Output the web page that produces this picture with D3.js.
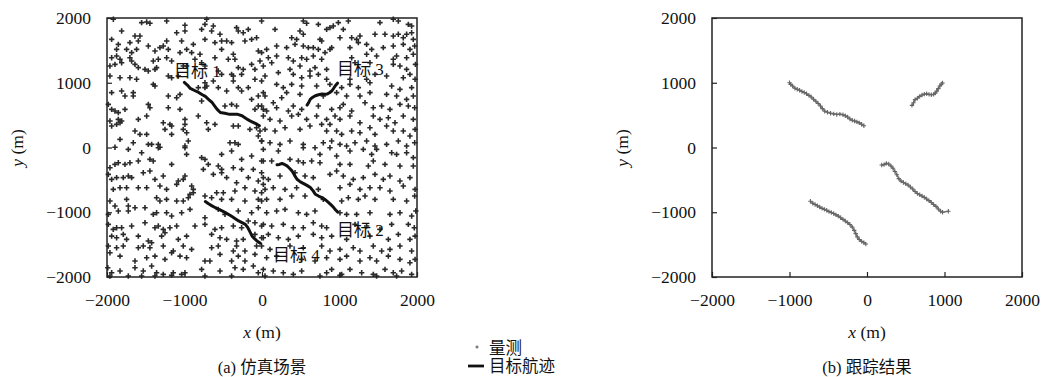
<!DOCTYPE html>
<html><head><meta charset="utf-8">
<script src="https://cdn.jsdelivr.net/npm/d3@7"></script>
<style>
body{margin:0;background:#fff;}
svg{display:block;}
text{font-family:"Liberation Serif","DejaVu Serif","Noto Sans CJK SC",serif;fill:#111;}
</style></head><body>
<svg id="c" width="1042" height="377"></svg>
<script>
// ---- data (metres) ----
const xTicks=[-2000,-1000,0,1000,2000];
const yTicks=[-2000,-1000,0,1000,2000];
const targetLabels=[
 {name:"目标 1",x:-1135,y:1090},
 {name:"目标 3",x:968,y:1120},
 {name:"目标 2",x:968,y:-1366},
 {name:"目标 4",x:142,y:-1752}];
const truth1=[[-1002,1005],[-960,960],[-925,912],[-870,880],[-817,850],[-770,815],[-731,789],[-690,745],[-645,696],[-610,640],[-581,593],[-538,541],[-480,528],[-430,515],[-375,512],[-323,515],[-258,490],[-220,460],[-194,438],[-160,415],[-129,397],[-80,370],[-34,335]];
const truth2=[[194,-268],[225,-262],[258,-247],[290,-262],[323,-284],[355,-320],[387,-361],[420,-430],[452,-490],[495,-530],[538,-557],[580,-585],[624,-619],[660,-670],[688,-722],[730,-750],[774,-773],[820,-810],[860,-851],[895,-890],[925,-928],[950,-965],[975,-995]];
const truth3=[[581,655],[600,690],[624,747],[655,775],[688,799],[730,815],[774,825],[810,822],[839,825],[870,845],[903,876],[925,915],[946,954],[976,995]];
const truth4=[[-731,-835],[-690,-870],[-645,-902],[-600,-930],[-559,-954],[-515,-980],[-473,-1005],[-430,-1035],[-387,-1067],[-345,-1100],[-301,-1134],[-258,-1160],[-215,-1186],[-190,-1225],[-172,-1263],[-150,-1315],[-129,-1366],[-100,-1405],[-65,-1443],[-22,-1479]];
const est1=[[-1000,1000],[-985,975],[-960,950],[-930,915],[-900,900],[-870,885],[-840,865],[-810,850],[-780,830],[-750,805],[-720,780],[-690,745],[-660,715],[-630,680],[-600,640],[-575,600],[-545,560],[-510,545],[-470,530],[-430,520],[-390,510],[-350,515],[-310,505],[-280,490],[-250,470],[-220,440],[-190,420],[-160,410],[-130,395],[-100,380],[-70,360],[-40,335]];
const est2=[[190,-270],[220,-265],[250,-245],[280,-255],[310,-285],[335,-320],[360,-370],[385,-420],[410,-480],[440,-520],[470,-540],[500,-560],[530,-580],[560,-610],[590,-640],[620,-680],[650,-710],[680,-730],[710,-750],[740,-770],[770,-795],[800,-820],[830,-850],[860,-880],[890,-910],[920,-950],[950,-985],[975,-1000],[1050,-985]];
const est3=[[580,650],[600,690],[620,740],[650,760],[680,790],[710,810],[740,825],[770,830],[800,820],[830,815],[860,820],[880,840],[900,870],[920,910],[940,950],[960,980],[975,995]];
const est4=[[-730,-830],[-700,-860],[-670,-880],[-640,-900],[-610,-920],[-580,-940],[-550,-955],[-520,-970],[-490,-990],[-460,-1005],[-430,-1020],[-400,-1040],[-370,-1060],[-340,-1085],[-310,-1110],[-280,-1135],[-250,-1160],[-220,-1190],[-190,-1230],[-165,-1280],[-145,-1330],[-125,-1380],[-100,-1420],[-70,-1450],[-40,-1470],[-15,-1490]];
const clutterNW=[[-1918,1980],[-1553,1928],[-1488,1938],[-1446,1918],[-1230,1954],[-714,1980],[-5,1954],[-994,1887],[-779,1825],[-736,1902],[-328,1851],[-306,1799],[-177,1825],[-628,1876],[-1940,1670],[-1811,1799],[-1639,1722],[-1575,1722],[-1596,1645],[-994,1799],[-650,1799],[-542,1748],[-242,1773],[-1854,1593],[-1704,1619],[-1467,1567],[-1317,1542],[-1274,1567],[-1230,1645],[-1101,1773],[-1037,1645],[-886,1593],[-736,1670],[-607,1619],[-521,1645],[-456,1645],[-392,1619],[-220,1645],[-134,1670],[-70,1696],[-1876,1516],[-1747,1516],[-1682,1465],[-1618,1516],[-1381,1490],[-1209,1516],[-1058,1465],[-972,1516],[-908,1465],[-800,1439],[-521,1516],[-370,1439],[-48,1490],[-5,1465],[-1940,1387],[-1876,1413],[-1832,1362],[-1704,1387],[-1682,1336],[-1596,1233],[-1639,1284],[-1403,1336],[-1338,1362],[-1230,1387],[-1166,1336],[-865,1362],[-779,1310],[-607,1387],[-435,1362],[-349,1362],[-306,1233],[-242,1207],[-134,1284],[-26,1336],[-1962,1258],[-1897,1284],[-1811,1310],[-1510,1207],[-1467,1181],[-1381,1207],[-1360,1233],[-1016,1258],[-972,1258],[-736,1258],[-564,1181],[-521,1130],[-392,1130],[-370,1104],[-263,1130],[-91,1207],[-1962,1104],[-1832,1078],[-1704,1078],[-1618,1053],[-1403,975],[-1381,950],[-1209,1104],[-1166,1078],[-1080,1104],[-736,1001],[-628,1027],[-736,924],[-370,1027],[-306,924],[-91,1053],[-5,1027],[-1940,847],[-1811,872],[-1768,795],[-1661,847],[-1661,795],[-1209,795],[-1101,769],[-1058,821],[-822,924],[-714,950],[-564,924],[-456,872],[-263,872],[-177,924],[-48,795],[17,847],[-1983,666],[-1940,589],[-1897,563],[-1854,538],[-1768,589],[-1467,666],[-1446,615],[-1209,615],[-1058,589],[-779,718],[-478,641],[-392,666],[-328,641],[-134,744],[-91,589],[-48,641],[17,589],[-1962,409],[-1854,435],[-1832,383],[-1811,409],[-1596,435],[-1488,486],[-1274,383],[-1188,357],[-994,435],[-994,357],[-822,486],[-714,383],[-607,357],[-70,306],[-26,254],[-1940,332],[-1876,357],[-1639,254],[-1575,203],[-1488,203],[-1252,280],[-1166,332],[-1016,280],[-1166,203],[-972,228],[-693,280],[-370,332],[-306,332],[-156,280],[-48,177],[-1832,126],[-1661,74],[-1467,48],[-1424,48],[-1338,48],[-994,23],[-951,100],[-413,74],[-349,74],[-306,48],[-5,100],[-1897,3],[-1317,3]];
const clutterNE=[[533,1954],[576,1918],[727,1902],[834,1825],[877,1851],[920,1876],[985,1928],[1049,1825],[1114,1954],[1522,1928],[1694,1980],[1759,1954],[1888,1902],[1931,1876],[168,1825],[490,1799],[383,1696],[447,1670],[533,1748],[748,1670],[770,1645],[1006,1696],[1157,1696],[1221,1670],[1243,1619],[1264,1722],[1458,1748],[1587,1748],[1694,1722],[1759,1748],[1823,1696],[1866,1748],[1931,1773],[1952,1670],[60,1516],[189,1567],[318,1542],[426,1593],[533,1567],[598,1542],[662,1542],[727,1516],[877,1516],[899,1542],[1135,1542],[1350,1593],[1415,1516],[1565,1542],[1694,1567],[1823,1593],[1909,1516],[1970,1567],[82,1387],[189,1413],[340,1387],[404,1336],[512,1387],[576,1362],[662,1413],[770,1362],[813,1465],[1157,1387],[1350,1439],[1479,1413],[1694,1362],[1737,1413],[1866,1387],[1952,1439],[17,1258],[125,1310],[361,1207],[490,1258],[619,1181],[684,1233],[834,1207],[1200,1310],[1393,1310],[1694,1284],[1780,1258],[1866,1207],[1980,1284],[39,1104],[211,1156],[404,1130],[512,1078],[619,1104],[727,1130],[834,1053],[1135,1053],[1350,1053],[1458,1130],[1608,1104],[1823,1078],[1909,1130],[189,975],[275,924],[383,975],[512,950],[705,950],[877,975],[1028,924],[1135,975],[1243,924],[1393,1001],[1673,950],[1780,898],[1931,924],[1975,1053],[39,795],[146,692],[254,769],[318,847],[490,821],[791,795],[963,847],[1092,795],[1264,795],[1393,847],[1608,821],[1737,795],[1866,744],[1952,795],[-5,641],[60,563],[189,615],[340,563],[404,641],[512,589],[727,641],[899,589],[1006,615],[1049,666],[1157,563],[1329,692],[1436,615],[1544,641],[1651,589],[1780,666],[1888,641],[1970,615],[17,486],[103,435],[232,409],[383,486],[469,512],[576,435],[705,486],[834,435],[877,357],[942,486],[1006,435],[1135,486],[1264,383],[1436,486],[1522,435],[1630,460],[1716,383],[1823,486],[1952,435],[39,280],[168,254],[297,306],[490,280],[619,332],[770,357],[834,254],[963,254],[1028,203],[1157,254],[1264,228],[1393,306],[1458,203],[1608,332],[1694,254],[1823,254],[1909,177],[1975,280],[-5,100],[103,74],[232,48],[361,100],[533,48],[684,-3],[791,74],[899,100],[1006,48],[1092,23],[1200,74],[1350,100],[1458,23],[1608,48],[1759,100],[1866,23],[1970,74]];
const clutterSW=[[-1725,-29],[-1553,-80],[-1338,-3],[-994,-3],[-973,-106],[-779,-157],[-736,-183],[-521,-106],[-392,-54],[-263,-183],[-134,-132],[-5,-209],[-1962,-312],[-1897,-260],[-1854,-235],[-1768,-260],[-1704,-235],[-1596,-209],[-1446,-183],[-1403,-209],[-1166,-260],[-757,-338],[-693,-260],[-564,-286],[-521,-338],[-370,-312],[-263,-338],[-112,-338],[-5,-389],[-1983,-415],[-1940,-492],[-1876,-466],[-1790,-466],[-1725,-441],[-1682,-466],[-1532,-389],[-1446,-363],[-1381,-492],[-1274,-441],[-1080,-518],[-1016,-492],[-994,-441],[-908,-595],[-628,-415],[-521,-389],[-456,-466],[-328,-544],[-177,-466],[-48,-518],[17,-569],[-1919,-647],[-1832,-621],[-1747,-621],[-1596,-621],[-1488,-621],[-1317,-595],[-1231,-647],[-1101,-569],[-886,-647],[-736,-750],[-585,-698],[-499,-698],[-349,-672],[-220,-621],[-91,-672],[-5,-698],[-1962,-827],[-1897,-904],[-1747,-801],[-1725,-904],[-1639,-930],[-1360,-775],[-1317,-827],[-1231,-801],[-1101,-827],[-1016,-827],[-951,-775],[-929,-724],[-886,-698],[-650,-775],[-521,-801],[-392,-801],[-220,-827],[-48,-801],[-1983,-1033],[-1854,-981],[-1725,-981],[-1510,-930],[-1403,-1033],[-1360,-1007],[-1231,-1007],[-1166,-1058],[-1037,-1007],[-929,-956],[-736,-1084],[-564,-956],[-478,-1033],[-306,-981],[-134,-1007],[-48,-930],[-1983,-1187],[-1919,-1265],[-1876,-1239],[-1811,-1239],[-1682,-1213],[-1510,-1162],[-1381,-1239],[-1338,-1213],[-1274,-1265],[-1188,-1239],[-1101,-1213],[-865,-1213],[-736,-1187],[-607,-1265],[-521,-1239],[-370,-1213],[-263,-1239],[-177,-1136],[-91,-1162],[-5,-1213],[-1940,-1368],[-1876,-1393],[-1790,-1342],[-1747,-1419],[-1596,-1368],[-1467,-1445],[-1424,-1471],[-1295,-1368],[-1252,-1316],[-1080,-1419],[-973,-1368],[-650,-1342],[-542,-1393],[-456,-1419],[-328,-1445],[-242,-1419],[-91,-1342],[17,-1393],[-1983,-1522],[-1876,-1548],[-1790,-1522],[-1596,-1548],[-1532,-1522],[-1446,-1548],[-1274,-1522],[-1145,-1599],[-1016,-1522],[-908,-1574],[-650,-1548],[-564,-1522],[-370,-1599],[-328,-1522],[-220,-1599],[-70,-1522],[-1962,-1625],[-1832,-1677],[-1639,-1754],[-1488,-1702],[-1381,-1677],[-1252,-1728],[-1166,-1625],[-1058,-1677],[-973,-1702],[-736,-1754],[-672,-1754],[-542,-1651],[-392,-1754],[-306,-1677],[-220,-1754],[-91,-1651],[-1990,-1857],[-1940,-1934],[-1832,-1908],[-1639,-1857],[-1532,-1908],[-1424,-1831],[-1360,-1934],[-1274,-1960],[-1145,-1934],[-1037,-1960],[-994,-1934],[-779,-1883],[-542,-1908],[-349,-1857],[-242,-1883],[-112,-1831],[-48,-1934],[-1962,-1985],[-1725,-1985],[-1553,-1985],[-1381,-1985],[-1166,-1975],[-736,-1985],[-392,-1985]];
const clutterSE=[[17,-29],[211,-54],[533,-3],[748,-106],[877,-3],[963,-132],[1135,-54],[1307,-29],[1415,-106],[1479,-29],[1673,-80],[1737,-106],[1866,-80],[1952,-157],[17,-209],[125,-209],[361,-183],[469,-209],[533,-235],[641,-209],[748,-235],[1006,-260],[1135,-260],[1372,-286],[1436,-209],[1587,-260],[1780,-286],[1952,-286],[17,-466],[82,-492],[232,-441],[426,-389],[555,-441],[662,-466],[877,-415],[963,-363],[1049,-441],[1178,-492],[1307,-466],[1458,-415],[1565,-492],[1651,-441],[1780,-518],[1909,-466],[39,-647],[146,-621],[297,-647],[447,-621],[727,-647],[1006,-621],[1135,-569],[1264,-647],[1393,-621],[1522,-621],[1651,-672],[1823,-595],[1975,-647],[-5,-827],[60,-801],[232,-801],[383,-750],[555,-750],[791,-801],[1028,-827],[1114,-775],[1243,-801],[1329,-750],[1458,-801],[1694,-801],[1866,-827],[1970,-750],[60,-1007],[189,-981],[297,-956],[469,-1007],[576,-1033],[684,-981],[1006,-1007],[1092,-1033],[1221,-1033],[1393,-1007],[1651,-1033],[1780,-1007],[1931,-1058],[1985,-981],[17,-1187],[125,-1213],[275,-1187],[404,-1239],[533,-1239],[662,-1162],[770,-1213],[834,-1239],[1200,-1187],[1350,-1213],[1522,-1265],[1673,-1187],[1888,-1187],[1965,-1239],[-5,-1393],[82,-1342],[211,-1393],[340,-1419],[469,-1368],[662,-1342],[770,-1393],[899,-1368],[1092,-1419],[1393,-1368],[1630,-1419],[1759,-1342],[1909,-1419],[1975,-1368],[-5,-1522],[103,-1574],[361,-1522],[533,-1548],[770,-1522],[877,-1599],[1006,-1574],[1178,-1548],[1264,-1599],[1436,-1522],[1544,-1599],[1651,-1574],[1780,-1522],[1931,-1599],[60,-1702],[189,-1677],[512,-1728],[684,-1754],[834,-1702],[1006,-1728],[1092,-1677],[1264,-1754],[1393,-1702],[1479,-1754],[1630,-1677],[1780,-1728],[1909,-1780],[1975,-1728],[17,-1883],[146,-1908],[275,-1934],[404,-1960],[512,-1908],[834,-1934],[899,-1883],[1028,-1960],[1135,-1883],[1286,-1934],[1436,-1960],[1587,-1883],[1694,-1934],[1802,-1908],[1931,-1960],[39,-1985],[748,-1985],[1006,-1975],[1479,-1985],[1737,-1985]];
const legendItems=["量测","目标航迹"];
const captions=["(a) 仿真场景","(b) 跟踪结果"];

// ---- drawing ----
const svg=d3.select("#c");
const clutter=[...clutterNW,...clutterNE,...clutterSW,...clutterSE];
const truths=[truth1,truth2,truth3,truth4];
const ests=[est1,est2,est3,est4];
const yS=d3.scaleLinear().domain([-2000,2000]).range([277,18]);
function plus(h){return `M${-h},0H${h}M0,${-h}V${h}`;}

function panel(x0,x1,drawFn,caption){
  const xS=d3.scaleLinear().domain([-2000,2000]).range([x0,x1]);
  const g=svg.append("g");
  drawFn(g,xS);
  g.append("rect").attr("x",x0).attr("y",18).attr("width",x1-x0).attr("height",259)
   .attr("fill","none").attr("stroke","#222").attr("stroke-width",1.5);
  const ax=g.append("g").attr("transform","translate(0,277)")
   .call(d3.axisBottom(xS).tickValues(xTicks).tickSizeInner(-5).tickSizeOuter(0).tickPadding(17).tickFormat(d3.format("d")));
  const ay=g.append("g").attr("transform",`translate(${x0},0)`)
   .call(d3.axisLeft(yS).tickValues(yTicks).tickSizeInner(-5).tickSizeOuter(0).tickPadding(16).tickFormat(d3.format("d")));
  [ax,ay].forEach(a=>{
    a.select(".domain").remove();
    a.selectAll("line").attr("stroke","#222").attr("stroke-width",1.2);
    a.selectAll("text").attr("font-size",17.5).attr("font-family",'"Liberation Serif",serif').attr("fill","#111");
  });
  const cx=(x0+x1)/2;
  const xt=g.append("text").attr("x",cx).attr("y",338).attr("text-anchor","middle").attr("font-size",17.5);
  xt.append("tspan").attr("font-style","italic").text("x");
  xt.append("tspan").text(" (m)");
  const yt=g.append("text").attr("transform",`translate(${x0-84},148) rotate(-90)`).attr("text-anchor","middle").attr("font-size",17.5);
  yt.append("tspan").attr("font-style","italic").text("y");
  yt.append("tspan").text(" (m)");
  g.append("text").attr("x",cx).attr("y",373).attr("text-anchor","middle").attr("font-size",16.5).text(caption);
}

panel(107,417,(g,xS)=>{
  g.append("g").selectAll("path").data(clutter).join("path")
   .attr("d",plus(2.7)).attr("transform",d=>`translate(${xS(d[0])},${yS(d[1])})`)
   .attr("stroke","#2a2a2a").attr("stroke-width",1.6).attr("fill","none");
  const line=d3.line().x(d=>xS(d[0])).y(d=>yS(d[1]));
  g.append("g").selectAll("path").data(truths).join("path")
   .attr("d",line).attr("fill","none").attr("stroke","#111").attr("stroke-width",3).attr("stroke-linejoin","round").attr("stroke-linecap","round");
  g.append("g").selectAll("text").data(targetLabels).join("text")
   .attr("x",d=>xS(d.x)).attr("y",d=>yS(d.y)).attr("font-size",17).text(d=>d.name);
},captions[0]);

panel(712,1022,(g,xS)=>{
  const line=d3.line().x(d=>xS(d[0])).y(d=>yS(d[1]));
  g.append("g").selectAll("path").data(ests).join("path")
   .attr("d",line).attr("fill","none").attr("stroke","#777").attr("stroke-width",1.4);
  g.append("g").selectAll("path").data(ests.flat()).join("path")
   .attr("d",plus(2.2)).attr("transform",d=>`translate(${xS(d[0])},${yS(d[1])})`)
   .attr("stroke","#666").attr("stroke-width",1.1).attr("fill","none");
},captions[1]);

// legend
const lg=svg.append("g");
lg.append("path").attr("d",plus(1.6)).attr("transform","translate(477,347)").attr("stroke","#555").attr("stroke-width",1);
lg.append("text").attr("x",489).attr("y",354).attr("font-size",16.5).text(legendItems[0]);
lg.append("line").attr("x1",468).attr("x2",484).attr("y1",366).attr("y2",366).attr("stroke","#111").attr("stroke-width",2.8);
lg.append("text").attr("x",489).attr("y",372).attr("font-size",16.5).text(legendItems[1]);
</script></body></html>
